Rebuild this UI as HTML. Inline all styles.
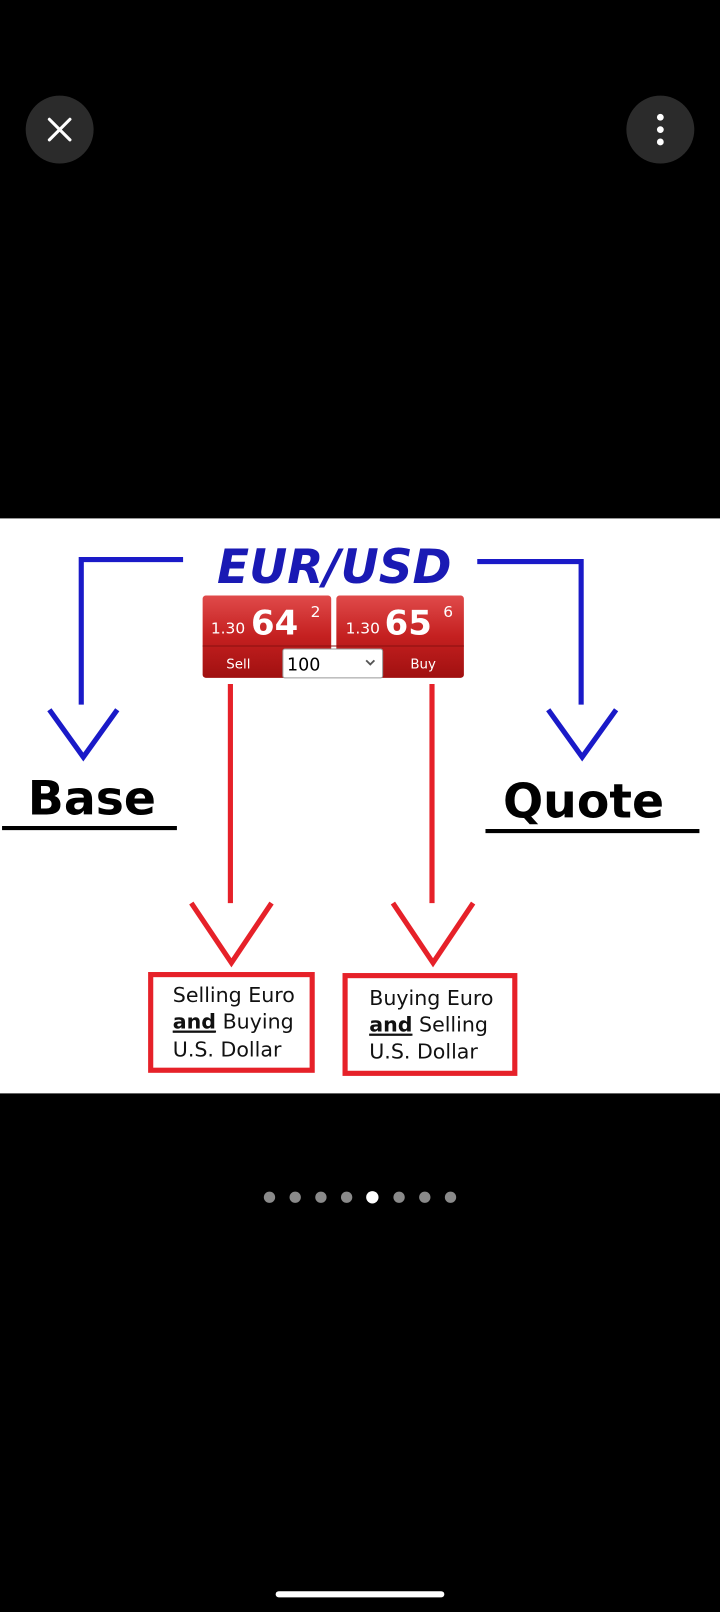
<!DOCTYPE html>
<html><head><style>html,body{margin:0;padding:0;background:#000;}svg{display:block}</style></head>
<body>
<svg width="720" height="1612" viewBox="0 0 700 1567.2" preserveAspectRatio="none" xmlns="http://www.w3.org/2000/svg">
<defs>
<linearGradient id="rg" x1="0" y1="0" x2="0" y2="1"><stop offset="0" stop-color="#e04a4a"/><stop offset="0.5" stop-color="#c42020"/><stop offset="1" stop-color="#a01010"/></linearGradient>
</defs>
<rect width="700" height="1568" fill="#000"/>
<circle cx="58" cy="126" r="33" fill="#2b2b2b"/>
<path d="M48 116 L68 136 M68 116 L48 136" stroke="#fff" stroke-width="3" stroke-linecap="round"/>
<circle cx="642" cy="126" r="33" fill="#2b2b2b"/>
<circle cx="642" cy="114" r="3.3" fill="#fff"/><circle cx="642" cy="126" r="3.3" fill="#fff"/><circle cx="642" cy="138" r="3.3" fill="#fff"/>
<rect x="0" y="504" width="700" height="559" fill="#fff"/>
<g stroke="#1a1ac8" stroke-width="5" fill="none">
<path d="M178 544 H79 V685"/><path d="M48 690 L81 736 L114 690"/>
<path d="M464 546 H565 V685"/><path d="M533 690 L566 736 L599 690"/>
</g>
<text x="27" y="792" font-family="DejaVu Sans, sans-serif" font-weight="bold" font-size="46" fill="#000">Base</text>
<line x1="2" y1="805" x2="172" y2="805" stroke="#000" stroke-width="4"/>
<text x="489" y="795" font-family="DejaVu Sans, sans-serif" font-weight="bold" font-size="46" fill="#000">Quote</text>
<line x1="472" y1="808" x2="680" y2="808" stroke="#000" stroke-width="4"/>
<text x="325" y="567" text-anchor="middle" font-family="DejaVu Sans, sans-serif" font-weight="bold" font-style="italic" font-size="46" fill="#1a1ab4" textLength="228" lengthAdjust="spacingAndGlyphs">EUR/USD</text>
<rect x="197" y="579" width="125" height="80" rx="3" fill="url(#rg)"/>
<rect x="327" y="579" width="124" height="80" rx="3" fill="url(#rg)"/>
<line x1="197" y1="628" x2="451" y2="628" stroke="#8a1010" stroke-width="1"/>
<rect x="275" y="631" width="97" height="28" rx="2" fill="#fff" stroke="#999"/>
<text x="279" y="652" font-family="DejaVu Sans, sans-serif" font-size="17" fill="#000">100</text>
<path d="M356 642 L360 646 L364 642" stroke="#555" stroke-width="1.8" fill="none"/>
<g font-family="DejaVu Sans, sans-serif" fill="#fff">
<text x="205" y="616" font-size="15">1.30</text><text x="244" y="617" font-size="33" font-weight="bold">64</text><text x="302" y="600" font-size="15">2</text>
<text x="336" y="616" font-size="15">1.30</text><text x="374" y="617" font-size="33" font-weight="bold">65</text><text x="431" y="600" font-size="15">6</text>
<text x="220" y="650" font-size="13">Sell</text><text x="399" y="650" font-size="13">Buy</text>
</g>
<g stroke="#e62129" stroke-width="5" fill="none">
<path d="M224 665 V878"/><path d="M186 878 L225 936 L264 878"/>
<path d="M420 665 V878"/><path d="M382 878 L421 936 L460 878"/>
<rect x="146.5" y="947.5" width="157" height="93"/>
<rect x="335.5" y="948.5" width="165" height="95"/>
</g>
<g font-family="DejaVu Sans, sans-serif" font-size="20" fill="#111">
<text x="168" y="974">Selling Euro</text>
<text x="168" y="1000"><tspan font-weight="bold" text-decoration="underline">and</tspan> Buying</text>
<text x="168" y="1027">U.S. Dollar</text>
<text x="359" y="977">Buying Euro</text>
<text x="359" y="1003"><tspan font-weight="bold" text-decoration="underline">and</tspan> Selling</text>
<text x="359" y="1029">U.S. Dollar</text>
</g>
<line x1="168" y1="1003" x2="209" y2="1003" stroke="#111" stroke-width="2"/>
<line x1="359" y1="1006" x2="400" y2="1006" stroke="#111" stroke-width="2"/>
<g fill="#8a8a8a">
<circle cx="262" cy="1164" r="5.5"/><circle cx="287" cy="1164" r="5.5"/><circle cx="312" cy="1164" r="5.5"/><circle cx="337" cy="1164" r="5.5"/>
<circle cx="388" cy="1164" r="5.5"/><circle cx="413" cy="1164" r="5.5"/><circle cx="438" cy="1164" r="5.5"/>
</g>
<circle cx="362" cy="1164" r="6" fill="#fff"/>
<rect x="268" y="1547" width="164" height="6" rx="3" fill="#fff"/>
</svg>
</body></html>
